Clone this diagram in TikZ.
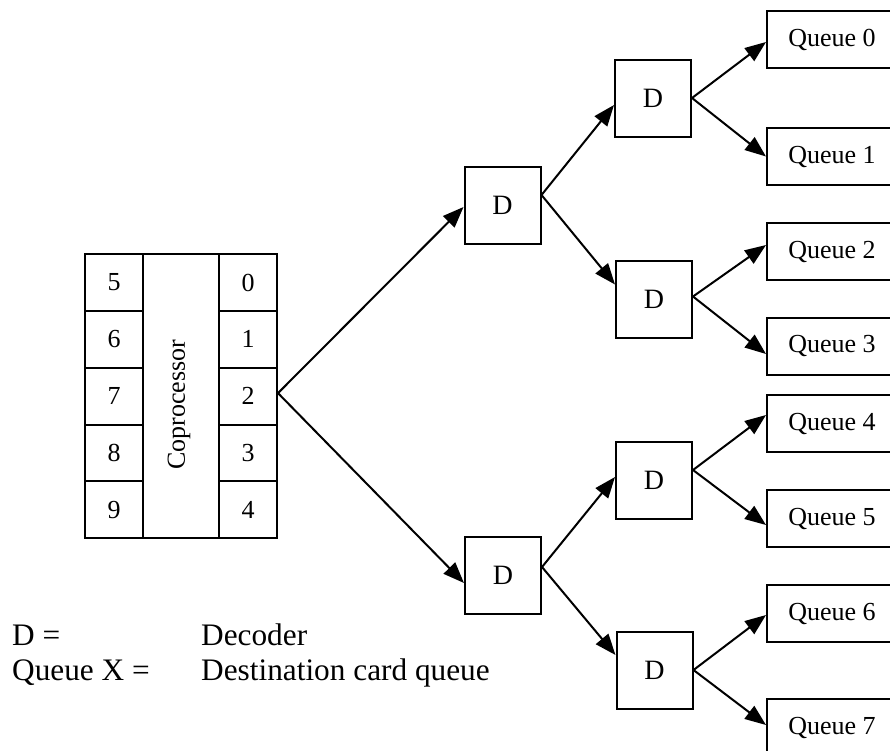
\documentclass[tikz,border=0pt]{standalone}
\usepackage{fontspec}
\setmainfont{Liberation Serif}
\usetikzlibrary{arrows.meta}
\begin{document}
\begin{tikzpicture}[x=1pt,y=-1pt,
  box/.style={draw, line width=2pt, inner sep=0pt},
  cell/.style={box, minimum width=58pt, minimum height=56.8pt, font=\fontsize{26}{30}\selectfont},
  dec/.style={box, minimum width=76pt, minimum height=77pt, font=\fontsize{28}{32}\selectfont},
  queue/.style={box, minimum width=130pt, minimum height=57pt, font=\fontsize{26}{30}\selectfont},
  arr/.style={line width=2pt, -{Triangle[length=21pt,width=16pt]}},
  legend/.style={anchor=base west, inner sep=0pt, font=\fontsize{31.3}{36}\selectfont}]
\useasboundingbox (0,0) rectangle (890,750);
\clip (0,0) rectangle (890,750);

% coprocessor with its ten ports
\node[box, minimum width=76pt, minimum height=284pt] (cop) at (181,396) {};
\node[rotate=90, inner sep=0pt, font=\fontsize{26}{30}\selectfont] (coplabel) at (179,405) {Coprocessor};
\foreach \n/\r in {5/0,6/1,7/2,8/3,9/4}
  \node[cell] (c\n) at (114,282.5+56.8*\r) {\n};
\foreach \n/\r in {0/0,1/1,2/2,3/3,4/4}
  \node[cell] (c\n) at (248,282.5+56.8*\r) {\n};

% decoder tree
\node[dec] (D1)  at (502.5,205)   {D};
\node[dec] (D2)  at (503,575.5)   {D};
\node[dec] (D11) at (653,98)      {D};
\node[dec] (D12) at (654,299.5)   {D};
\node[dec] (D21) at (654,480)     {D};
\node[dec] (D22) at (654.5,670)   {D};

% destination queues
\node[queue] (Q0) at (832,39.5)  {Queue 0};
\node[queue] (Q1) at (832,156.5) {Queue 1};
\node[queue] (Q2) at (832,251.5) {Queue 2};
\node[queue] (Q3) at (832,346)   {Queue 3};
\node[queue] (Q4) at (832,423.5) {Queue 4};
\node[queue] (Q5) at (832,518.5) {Queue 5};
\node[queue] (Q6) at (832,613.5) {Queue 6};
\node[queue] (Q7) at (832,727.5) {Queue 7};

% connections
\draw[arr] ([yshift=3pt]c2.east) -- ([yshift=-2pt]D1.west);
\draw[arr] ([yshift=3pt]c2.east) -- ([yshift=-7.5pt]D2.west);
\draw[arr] ([yshift=10pt]D1.east) -- ([yshift=-7pt]D11.west);
\draw[arr] ([yshift=10pt]D1.east) -- ([yshift=15pt]D12.west);
\draw[arr] ([yshift=8.5pt]D2.east) -- ([yshift=3pt]D21.west);
\draw[arr] ([yshift=8.5pt]D2.east) -- ([yshift=15pt]D22.west);
\draw[arr] (D11.east) -- ([yshift=-2.5pt]Q0.west);
\draw[arr] (D11.east) -- (Q1.west);
\draw[arr] ([yshift=3pt]D12.east) -- ([yshift=6.5pt]Q2.west);
\draw[arr] ([yshift=3pt]D12.east) -- ([yshift=-8pt]Q3.west);
\draw[arr] ([yshift=10pt]D21.east) -- ([yshift=8.5pt]Q4.west);
\draw[arr] ([yshift=10pt]D21.east) -- ([yshift=-6.5pt]Q5.west);
\draw[arr] (D22.east) -- ([yshift=-1.5pt]Q6.west);
\draw[arr] (D22.east) -- ([yshift=2.5pt]Q7.west);

% legend
\node[legend] (kd) at (12,645) {D =};
\node[legend] (kq) at (12,680) {Queue X =};
\node[legend] (vd) at (201,645) {Decoder};
\node[legend] (vq) at (201,680) {Destination card queue};
\end{tikzpicture}
\end{document}
